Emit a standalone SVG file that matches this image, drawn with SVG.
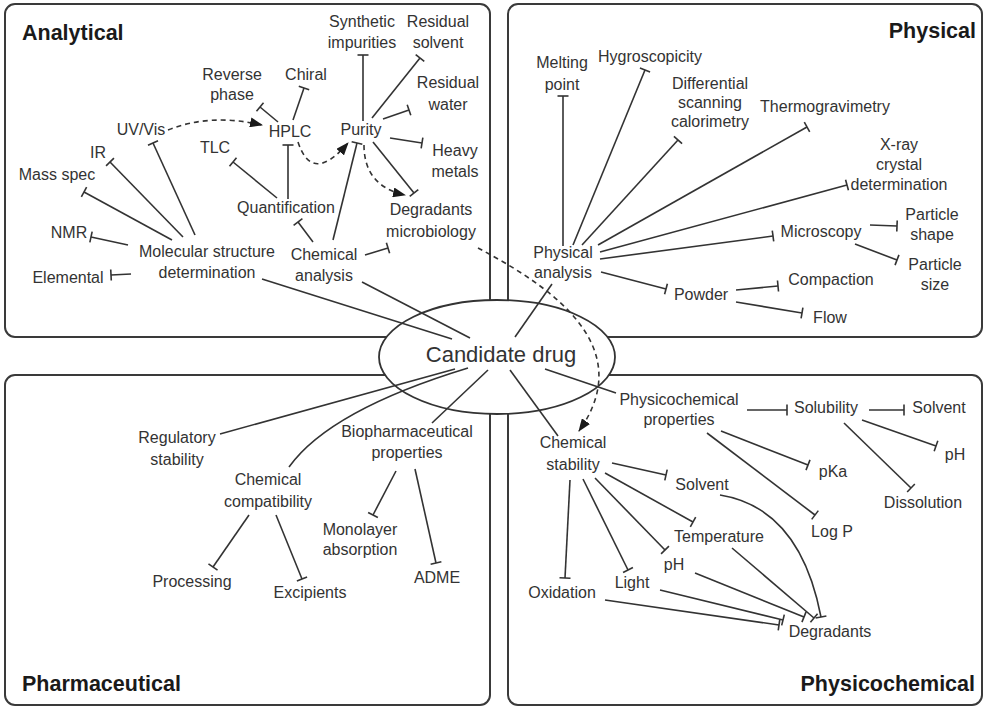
<svg xmlns="http://www.w3.org/2000/svg" width="987" height="708" viewBox="0 0 987 708">
<style>
.box{fill:#fff;stroke:#3a3a3a;stroke-width:2}
.t{font-family:"Liberation Sans",Arial,sans-serif;font-size:16px;fill:#333;text-anchor:middle}
.title{font-family:"Liberation Sans",Arial,sans-serif;font-size:21.5px;font-weight:bold;fill:#1a1a1a}
.c{fill:none;stroke:#333;stroke-width:1.6}
.tb{marker-end:url(#bar)}
.d{fill:none;stroke:#333;stroke-width:1.6;stroke-dasharray:5,4;marker-end:url(#arr)}
</style>
<defs>
<marker id="bar" viewBox="-2 -7 4 14" refX="0" refY="0" markerWidth="4" markerHeight="14" orient="auto" markerUnits="userSpaceOnUse">
<path d="M0,-5.5 L0,5.5" stroke="#333" stroke-width="1.6" fill="none"/>
</marker>
<marker id="arr" viewBox="0 -5 13 10" refX="12" refY="0" markerWidth="13" markerHeight="10" orient="auto" markerUnits="userSpaceOnUse">
<path d="M0,-5 L13,0 L0,5 z" fill="#1a1a1a"/>
</marker>
</defs>
<rect width="987" height="708" fill="#fff"/>
<g id="quadrants">
<g id="q-analytical"><rect class="box" x="5" y="4" width="485" height="333" rx="10"/><text class="title" x="22" y="40">Analytical</text></g>
<g id="q-physical"><rect class="box" x="508" y="4" width="474" height="333" rx="10"/><text class="title" x="976" y="38" text-anchor="end">Physical</text></g>
<g id="q-pharmaceutical"><rect class="box" x="5" y="375" width="485" height="330" rx="10"/><text class="title" x="22" y="691">Pharmaceutical</text></g>
<g id="q-physicochemical"><rect class="box" x="508" y="375" width="474" height="330" rx="10"/><text class="title" x="975" y="691" text-anchor="end">Physicochemical</text></g>
</g>
<g id="candidate-drug">
<ellipse cx="497" cy="357" rx="118" ry="57" fill="#fff" stroke="#333" stroke-width="1.8"/>
<text class="t" x="501" y="362" style="font-size:22px">Candidate drug</text>
</g>
<g id="connectors">
<!-- Analytical -->
<line class="c tb" x1="278" y1="122" x2="260" y2="107"/>
<line class="c tb" x1="293" y1="120" x2="304" y2="88"/>
<line class="c tb" x1="288" y1="199" x2="288" y2="145"/>
<line class="c tb" x1="277" y1="198" x2="233" y2="162"/>
<line class="c tb" x1="313" y1="242" x2="298" y2="222"/>
<line class="c tb" x1="333" y1="240" x2="357" y2="143"/>
<line class="c tb" x1="365" y1="255" x2="388" y2="248"/>
<line class="c tb" x1="363" y1="121" x2="363" y2="55"/>
<line class="c tb" x1="372" y1="118" x2="420" y2="58"/>
<line class="c tb" x1="383" y1="119" x2="409" y2="110"/>
<line class="c tb" x1="390" y1="138" x2="422" y2="143"/>
<line class="c tb" x1="373" y1="142" x2="414" y2="193"/>
<line class="c tb" x1="183" y1="237" x2="110" y2="162"/>
<line class="c tb" x1="195" y1="235" x2="153" y2="143"/>
<line class="c tb" x1="172" y1="240" x2="84" y2="192"/>
<line class="c tb" x1="128" y1="245" x2="91" y2="237"/>
<line class="c tb" x1="131" y1="274" x2="111" y2="275"/>
<line class="c" x1="262" y1="279" x2="452" y2="339"/>
<line class="c" x1="362" y1="282" x2="470" y2="338"/>
<path class="d" d="M168,130 Q210,113 262,125"/>
<path class="d" d="M298,142 Q312,185 348,143"/>
<path class="d" d="M364,145 Q364,186 405,195"/>
<path class="d" d="M478,248 C548,285 640,345 579,431"/>
<!-- Physical -->
<line class="c tb" x1="563" y1="246" x2="563" y2="96"/>
<line class="c tb" x1="573" y1="245" x2="645" y2="70"/>
<line class="c tb" x1="582" y1="245" x2="678" y2="140"/>
<line class="c tb" x1="598" y1="245" x2="807" y2="127"/>
<line class="c tb" x1="600" y1="252" x2="847" y2="185"/>
<line class="c tb" x1="600" y1="259" x2="773" y2="236"/>
<line class="c tb" x1="870" y1="225" x2="897" y2="226"/>
<line class="c tb" x1="855" y1="244" x2="897" y2="260"/>
<line class="c tb" x1="601" y1="272" x2="666" y2="289"/>
<line class="c tb" x1="736" y1="290" x2="778" y2="286"/>
<line class="c tb" x1="736" y1="302" x2="802" y2="313"/>
<line class="c" x1="552" y1="284" x2="515" y2="337"/>
<!-- Pharmaceutical -->
<line class="c" x1="455" y1="369" x2="220" y2="434"/>
<path class="c" d="M468,368 Q330,410 289,467"/>
<line class="c" x1="488" y1="370" x2="432" y2="423"/>
<line class="c tb" x1="396" y1="471" x2="373" y2="515"/>
<line class="c tb" x1="415" y1="469" x2="436" y2="563"/>
<line class="c tb" x1="249" y1="515" x2="213" y2="567"/>
<line class="c tb" x1="276" y1="515" x2="302" y2="579"/>
<!-- Physicochemical -->
<line class="c" x1="545" y1="369" x2="616" y2="393"/>
<line class="c" x1="510" y1="370" x2="558" y2="436"/>
<line class="c tb" x1="747" y1="410" x2="787" y2="410"/>
<line class="c tb" x1="869" y1="410" x2="904" y2="410"/>
<line class="c tb" x1="862" y1="420" x2="936" y2="446"/>
<line class="c tb" x1="844" y1="423" x2="911" y2="488"/>
<line class="c tb" x1="721" y1="431" x2="808" y2="465"/>
<line class="c tb" x1="707" y1="433" x2="815" y2="515"/>
<line class="c tb" x1="612" y1="463" x2="666" y2="475"/>
<line class="c tb" x1="605" y1="473" x2="693" y2="522"/>
<line class="c tb" x1="595" y1="478" x2="665" y2="550"/>
<line class="c tb" x1="583" y1="479" x2="628" y2="570"/>
<line class="c tb" x1="570" y1="480" x2="565" y2="578"/>
<path class="c tb" d="M720,495 Q800,508 821,617"/>
<line class="c tb" x1="732" y1="548" x2="814" y2="618"/>
<line class="c tb" x1="695" y1="573" x2="804" y2="617"/>
<line class="c tb" x1="660" y1="590" x2="783" y2="620"/>
<line class="c tb" x1="605" y1="600" x2="779" y2="625"/>
</g>
<g id="nodes">
<g id="n-reverse-phase"><text class="t" x="232" y="80">Reverse</text><text class="t" x="232" y="100">phase</text></g>
<g id="n-chiral"><text class="t" x="306" y="80">Chiral</text></g>
<g id="n-hplc"><text class="t" x="290" y="137">HPLC</text></g>
<g id="n-synthetic-impurities"><text class="t" x="362" y="27">Synthetic</text><text class="t" x="362" y="48">impurities</text></g>
<g id="n-residual-solvent"><text class="t" x="438" y="27">Residual</text><text class="t" x="438" y="48">solvent</text></g>
<g id="n-residual-water"><text class="t" x="448" y="88">Residual</text><text class="t" x="448" y="110">water</text></g>
<g id="n-purity"><text class="t" x="361" y="135">Purity</text></g>
<g id="n-heavy-metals"><text class="t" x="455" y="156">Heavy</text><text class="t" x="455" y="177">metals</text></g>
<g id="n-tlc"><text class="t" x="215" y="153">TLC</text></g>
<g id="n-uvvis"><text class="t" x="141" y="135">UV/Vis</text></g>
<g id="n-ir"><text class="t" x="98" y="158">IR</text></g>
<g id="n-mass-spec"><text class="t" x="57" y="180">Mass spec</text></g>
<g id="n-nmr"><text class="t" x="69" y="238">NMR</text></g>
<g id="n-elemental"><text class="t" x="68" y="283">Elemental</text></g>
<g id="n-molecular-structure"><text class="t" x="207" y="257">Molecular structure</text><text class="t" x="207" y="278">determination</text></g>
<g id="n-quantification"><text class="t" x="286" y="213">Quantification</text></g>
<g id="n-chemical-analysis"><text class="t" x="324" y="260">Chemical</text><text class="t" x="324" y="281">analysis</text></g>
<g id="n-degradants-microbiology"><text class="t" x="431" y="215">Degradants</text><text class="t" x="431" y="237">microbiology</text></g>

<g id="n-melting-point"><text class="t" x="562" y="68">Melting</text><text class="t" x="562" y="90">point</text></g>
<g id="n-hygroscopicity"><text class="t" x="650" y="62">Hygroscopicity</text></g>
<g id="n-dsc"><text class="t" x="710" y="89">Differential</text><text class="t" x="710" y="108">scanning</text><text class="t" x="710" y="127">calorimetry</text></g>
<g id="n-thermogravimetry"><text class="t" x="825" y="112">Thermogravimetry</text></g>
<g id="n-xray"><text class="t" x="899" y="150">X-ray</text><text class="t" x="899" y="170">crystal</text><text class="t" x="899" y="190">determination</text></g>
<g id="n-particle-shape"><text class="t" x="932" y="220">Particle</text><text class="t" x="932" y="240">shape</text></g>
<g id="n-particle-size"><text class="t" x="935" y="270">Particle</text><text class="t" x="935" y="290">size</text></g>
<g id="n-microscopy"><text class="t" x="821" y="237">Microscopy</text></g>
<g id="n-physical-analysis"><text class="t" x="563" y="258">Physical</text><text class="t" x="563" y="278">analysis</text></g>
<g id="n-powder"><text class="t" x="701" y="300">Powder</text></g>
<g id="n-compaction"><text class="t" x="831" y="285">Compaction</text></g>
<g id="n-flow"><text class="t" x="830" y="323">Flow</text></g>

<g id="n-regulatory-stability"><text class="t" x="177" y="443">Regulatory</text><text class="t" x="177" y="465">stability</text></g>
<g id="n-chemical-compatibility"><text class="t" x="268" y="485">Chemical</text><text class="t" x="268" y="507">compatibility</text></g>
<g id="n-biopharmaceutical"><text class="t" x="407" y="437">Biopharmaceutical</text><text class="t" x="407" y="458">properties</text></g>
<g id="n-monolayer"><text class="t" x="360" y="535">Monolayer</text><text class="t" x="360" y="555">absorption</text></g>
<g id="n-processing"><text class="t" x="192" y="587">Processing</text></g>
<g id="n-excipients"><text class="t" x="310" y="598">Excipients</text></g>
<g id="n-adme"><text class="t" x="437" y="583">ADME</text></g>

<g id="n-physicochemical-properties"><text class="t" x="679" y="405">Physicochemical</text><text class="t" x="679" y="425">properties</text></g>
<g id="n-solubility"><text class="t" x="826" y="413">Solubility</text></g>
<g id="n-solvent-sol"><text class="t" x="939" y="413">Solvent</text></g>
<g id="n-ph-sol"><text class="t" x="955" y="460">pH</text></g>
<g id="n-pka"><text class="t" x="833" y="477">pKa</text></g>
<g id="n-dissolution"><text class="t" x="923" y="508">Dissolution</text></g>
<g id="n-chemical-stability"><text class="t" x="573" y="448">Chemical</text><text class="t" x="573" y="470">stability</text></g>
<g id="n-solvent"><text class="t" x="702" y="490">Solvent</text></g>
<g id="n-logp"><text class="t" x="832" y="537">Log P</text></g>
<g id="n-temperature"><text class="t" x="719" y="542">Temperature</text></g>
<g id="n-ph"><text class="t" x="674" y="570">pH</text></g>
<g id="n-light"><text class="t" x="632" y="588">Light</text></g>
<g id="n-oxidation"><text class="t" x="562" y="598">Oxidation</text></g>
<g id="n-degradants"><text class="t" x="830" y="637">Degradants</text></g>
</g>
</svg>
